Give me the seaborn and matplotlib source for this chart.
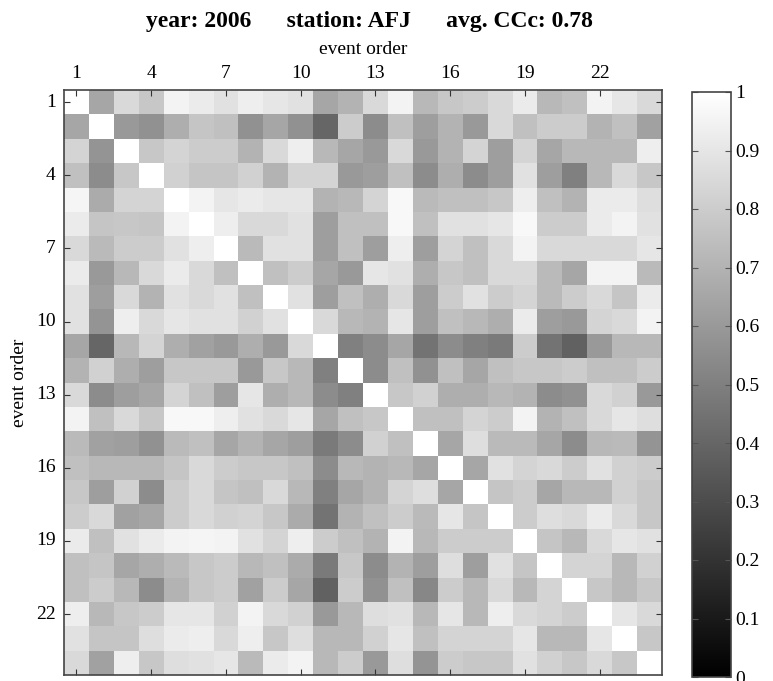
import numpy as np
import pandas as pd
import matplotlib
matplotlib.use("Agg")
import matplotlib.pyplot as plt
import seaborn as sns
from matplotlib.ticker import FuncFormatter

plt.rcParams["font.family"] = ["Liberation Serif", "DejaVu Serif"]

# Event order labels (1..24) and the cross-correlation coefficient matrix
events = list(range(1, 25))
tick_events = [1, 4, 7, 10, 13, 16, 19, 22]

r01 = [1.00, 0.65, 0.85, 0.78, 0.95, 0.92, 0.88, 0.93, 0.90, 0.88, 0.65, 0.70, 0.85, 0.95, 0.72, 0.78, 0.80, 0.85, 0.92, 0.72, 0.75, 0.95, 0.90, 0.85]
r02 = [0.65, 1.00, 0.60, 0.57, 0.68, 0.77, 0.75, 0.57, 0.65, 0.57, 0.40, 0.80, 0.55, 0.75, 0.62, 0.70, 0.60, 0.85, 0.75, 0.80, 0.80, 0.70, 0.75, 0.63]
r03 = [0.83, 0.58, 1.00, 0.78, 0.83, 0.80, 0.80, 0.70, 0.85, 0.93, 0.72, 0.65, 0.60, 0.85, 0.60, 0.70, 0.83, 0.62, 0.83, 0.65, 0.72, 0.72, 0.72, 0.93]
r04 = [0.75, 0.55, 0.78, 1.00, 0.82, 0.77, 0.77, 0.82, 0.70, 0.83, 0.83, 0.60, 0.62, 0.75, 0.55, 0.68, 0.55, 0.62, 0.88, 0.62, 0.50, 0.72, 0.85, 0.78]
r05 = [0.96, 0.67, 0.83, 0.83, 1.00, 0.95, 0.90, 0.92, 0.90, 0.90, 0.70, 0.72, 0.83, 0.97, 0.73, 0.75, 0.75, 0.78, 0.93, 0.75, 0.70, 0.92, 0.92, 0.87]
r06 = [0.92, 0.77, 0.78, 0.77, 0.95, 1.00, 0.93, 0.85, 0.85, 0.88, 0.62, 0.75, 0.75, 0.97, 0.75, 0.88, 0.88, 0.90, 0.97, 0.80, 0.80, 0.92, 0.95, 0.88]
r07 = [0.85, 0.73, 0.80, 0.80, 0.88, 0.93, 1.00, 0.73, 0.88, 0.88, 0.62, 0.75, 0.62, 0.93, 0.62, 0.83, 0.75, 0.85, 0.95, 0.85, 0.85, 0.85, 0.85, 0.90]
r08 = [0.92, 0.60, 0.72, 0.85, 0.92, 0.85, 0.75, 1.00, 0.75, 0.80, 0.65, 0.60, 0.90, 0.88, 0.68, 0.78, 0.75, 0.85, 0.85, 0.73, 0.65, 0.95, 0.95, 0.73]
r09 = [0.88, 0.62, 0.85, 0.70, 0.88, 0.85, 0.88, 0.75, 1.00, 0.88, 0.62, 0.75, 0.68, 0.85, 0.62, 0.80, 0.88, 0.80, 0.83, 0.73, 0.80, 0.85, 0.77, 0.92]
r10 = [0.88, 0.58, 0.93, 0.85, 0.90, 0.88, 0.88, 0.82, 0.88, 1.00, 0.85, 0.72, 0.70, 0.90, 0.62, 0.75, 0.72, 0.68, 0.92, 0.62, 0.60, 0.83, 0.85, 0.95]
r11 = [0.65, 0.40, 0.72, 0.83, 0.68, 0.63, 0.60, 0.68, 0.60, 0.85, 1.00, 0.50, 0.55, 0.65, 0.45, 0.55, 0.50, 0.48, 0.80, 0.45, 0.38, 0.60, 0.72, 0.72]
r12 = [0.70, 0.82, 0.68, 0.62, 0.78, 0.78, 0.78, 0.60, 0.78, 0.72, 0.50, 1.00, 0.55, 0.75, 0.57, 0.75, 0.65, 0.75, 0.78, 0.78, 0.80, 0.75, 0.75, 0.80]
r13 = [0.85, 0.55, 0.62, 0.65, 0.83, 0.75, 0.62, 0.90, 0.68, 0.72, 0.55, 0.50, 1.00, 0.78, 0.82, 0.68, 0.68, 0.72, 0.70, 0.55, 0.57, 0.85, 0.82, 0.60]
r14 = [0.95, 0.75, 0.85, 0.78, 0.97, 0.97, 0.93, 0.88, 0.85, 0.90, 0.65, 0.75, 0.78, 1.00, 0.75, 0.75, 0.83, 0.80, 0.95, 0.70, 0.75, 0.85, 0.90, 0.87]
r15 = [0.73, 0.63, 0.62, 0.57, 0.73, 0.75, 0.65, 0.70, 0.65, 0.62, 0.48, 0.55, 0.82, 0.75, 1.00, 0.65, 0.87, 0.73, 0.73, 0.65, 0.55, 0.72, 0.73, 0.58]
r16 = [0.75, 0.72, 0.72, 0.72, 0.77, 0.85, 0.80, 0.78, 0.78, 0.75, 0.55, 0.72, 0.70, 0.72, 0.65, 1.00, 0.65, 0.88, 0.83, 0.85, 0.80, 0.88, 0.82, 0.80]
r17 = [0.78, 0.62, 0.82, 0.55, 0.80, 0.85, 0.77, 0.75, 0.85, 0.72, 0.50, 0.65, 0.70, 0.83, 0.87, 0.65, 1.00, 0.77, 0.80, 0.65, 0.72, 0.72, 0.82, 0.78]
r18 = [0.80, 0.85, 0.63, 0.65, 0.80, 0.85, 0.82, 0.83, 0.78, 0.67, 0.45, 0.70, 0.75, 0.80, 0.73, 0.90, 0.77, 1.00, 0.80, 0.87, 0.85, 0.92, 0.85, 0.78]
r19 = [0.92, 0.75, 0.88, 0.92, 0.95, 0.96, 0.95, 0.88, 0.83, 0.93, 0.80, 0.75, 0.70, 0.95, 0.72, 0.80, 0.80, 0.80, 1.00, 0.77, 0.72, 0.85, 0.90, 0.88]
r20 = [0.75, 0.77, 0.65, 0.68, 0.73, 0.78, 0.80, 0.72, 0.75, 0.67, 0.48, 0.78, 0.55, 0.70, 0.62, 0.87, 0.62, 0.88, 0.77, 1.00, 0.83, 0.83, 0.72, 0.82]
r21 = [0.75, 0.80, 0.72, 0.55, 0.70, 0.78, 0.80, 0.63, 0.80, 0.65, 0.38, 0.80, 0.57, 0.75, 0.53, 0.80, 0.72, 0.85, 0.72, 0.83, 1.00, 0.78, 0.72, 0.78]
r22 = [0.93, 0.72, 0.78, 0.80, 0.90, 0.90, 0.82, 0.95, 0.85, 0.82, 0.60, 0.72, 0.87, 0.88, 0.72, 0.90, 0.72, 0.93, 0.85, 0.83, 0.80, 1.00, 0.90, 0.85]
r23 = [0.88, 0.77, 0.77, 0.87, 0.92, 0.93, 0.85, 0.93, 0.78, 0.87, 0.72, 0.72, 0.82, 0.90, 0.75, 0.83, 0.83, 0.83, 0.90, 0.72, 0.72, 0.90, 1.00, 0.78]
r24 = [0.85, 0.63, 0.93, 0.78, 0.87, 0.88, 0.90, 0.73, 0.92, 0.95, 0.72, 0.80, 0.60, 0.87, 0.58, 0.80, 0.78, 0.78, 0.88, 0.82, 0.78, 0.85, 0.78, 1.00]

rows = [r01, r02, r03, r04, r05, r06, r07, r08, r09, r10, r11, r12,
        r13, r14, r15, r16, r17, r18, r19, r20, r21, r22, r23, r24]
ccc = pd.DataFrame(rows, index=events, columns=events)

fig = plt.figure(figsize=(7.73, 6.81), dpi=100)
W, H = 773, 681
ax = fig.add_axes([64 / W, 1 - 675 / H, (662 - 64) / W, (675 - 90) / H])
cax = fig.add_axes([692 / W, 1 - 677 / H, (731 - 692) / W, (677 - 92) / H])

sns.heatmap(ccc, ax=ax, cbar_ax=cax, cmap="gray", vmin=0, vmax=1,
            square=False, linewidths=0)

# Axis ticks: every third event, labels on top and left, inward ticks on all sides
pos = [e - 0.5 for e in tick_events]
ax.set_xticks(pos)
ax.set_xticklabels([str(e) for e in tick_events], rotation=0)
ax.set_yticks(pos)
ax.set_yticklabels([str(e) for e in tick_events], rotation=0)
ax.tick_params(axis="both", direction="in", length=4, width=0.8,
               top=True, bottom=True, left=True, right=True,
               labeltop=True, labelbottom=False, labelleft=True,
               labelright=False, labelsize=14, pad=6, color="#333333")
ax.xaxis.set_label_position("top")
ax.set_xlabel("event order", fontsize=14, labelpad=8)
ax.set_ylabel("event order", fontsize=14, labelpad=6)
for s in ax.spines.values():
    s.set_visible(True)
    s.set_linewidth(1.2)
    s.set_color("#444444")

fig.text((64 + 662) / 2 / W + 0.008, 1 - 22 / H,
         "year: 2006      station: AFJ      avg. CCc: 0.78",
         fontsize=17, fontweight="bold", ha="center", va="center")

# Colorbar
cb = ax.collections[0].colorbar
cb.outline.set_linewidth(1.2)
cb.outline.set_edgecolor("#444444")
cb.set_ticks(np.round(np.arange(0, 1.01, 0.1), 1))
cax.yaxis.set_major_formatter(FuncFormatter(lambda v, p: "%g" % round(v, 1)))
cax.tick_params(direction="in", length=4, width=0.8, left=True, right=True,
                labelleft=False, labelright=True, labelsize=14, pad=3,
                color="#555555")

fig.savefig("out.png", dpi=100)
